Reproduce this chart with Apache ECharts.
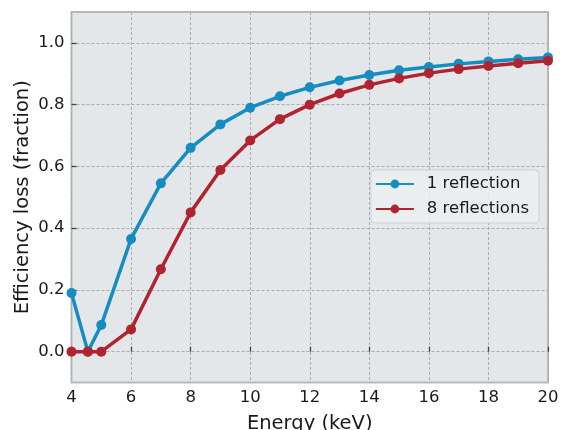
<!DOCTYPE html>
<html>
<head>
<meta charset="utf-8">
<script src="https://cdn.jsdelivr.net/npm/echarts@6/dist/echarts.min.js"></script>
<style>
    html, body { margin: 0; padding: 0; background: #fff; }
    #chart { width: 561px; height: 430px; }
</style>
</head>
<body>
<div id="chart"></div>
<script>
// energies in keV
var energy = [4, 4.55, 5, 6, 7, 8, 9, 10, 11, 12, 13, 14, 15, 16, 17, 18, 19, 20];
var oneReflection = [0.19, 0.0, 0.086, 0.365, 0.545, 0.66, 0.736, 0.79, 0.827, 0.856, 0.878, 0.896, 0.911, 0.922, 0.932, 0.94, 0.947, 0.953];
var eightReflections = [0.0, 0.0, 0.0, 0.072, 0.267, 0.451, 0.588, 0.684, 0.753, 0.80, 0.836, 0.864, 0.885, 0.902, 0.915, 0.925, 0.934, 0.942];
var yTicks = [0.0, 0.2, 0.4, 0.6, 0.8, 1.0];

var fontFamily = 'DejaVu Sans';
var blue = '#168dc0';
var red = '#b0242f';

function pairs(xs, ys) {
    return xs.map(function (x, i) {
        return [x, ys[i]];
    });
}

var chart = echarts.init(document.getElementById('chart'));
var option = {
    animation: false,
    textStyle: { fontFamily: fontFamily },
    grid: {
        left: 71.5,
        right: 13,
        top: 12,
        bottom: 47.5,
        outerBoundsMode: 'none',
        containLabel: false,
        show: true,
        backgroundColor: '#e4e7ea',
        borderColor: '#b5b9bd',
        borderWidth: 2,
    },
    legend: {
        right: 22,
        top: 170,
        orient: 'vertical',
        itemWidth: 38,
        itemHeight: 11,
        itemGap: 5,
        padding: [4, 10, 4, 4],
        backgroundColor: 'rgba(236,238,240,0.85)',
        borderColor: '#cdd0d3',
        borderWidth: 1,
        borderRadius: 4,
        textStyle: {
            fontFamily: fontFamily,
            fontSize: 16.5,
            color: '#1a1a1a',
            padding: [0, 0, 0, 8],
            lineHeight: 20,
        },
        data: ['1 reflection', '8 reflections'],
    },
    xAxis: {
        type: 'value',
        min: 4,
        max: 20,
        interval: 2,
        name: 'Energy (keV)',
        nameLocation: 'middle',
        nameGap: 31,
        nameMoveOverlap: false,
        nameTextStyle: { fontSize: 19.5, color: '#1a1a1a', fontFamily: fontFamily },
        axisLine: { show: false },
        axisTick: { show: true, inside: true, length: 5, lineStyle: { color: '#444', width: 1.3 } },
        axisLabel: { fontSize: 16.5, color: '#1a1a1a', margin: 6.5, fontFamily: fontFamily },
        splitLine: { show: true, lineStyle: { color: '#a9abad', type: [3, 2], width: 1 } },
    },
    yAxis: {
        type: 'value',
        min: -0.1,
        max: 1.1,
        name: 'Efficiency loss (fraction)',
        nameLocation: 'middle',
        nameGap: 39,
        nameMoveOverlap: false,
        nameTextStyle: { fontSize: 19.5, color: '#1a1a1a', fontFamily: fontFamily },
        axisLine: { show: false },
        axisTick: { show: true, inside: true, length: 5, customValues: yTicks, lineStyle: { color: '#444', width: 1.3 } },
        axisLabel: {
            fontSize: 16.5,
            color: '#1a1a1a',
            margin: 7,
            fontFamily: fontFamily,
            customValues: yTicks,
            formatter: function (v) { return v.toFixed(1); },
        },
        splitLine: { show: true, lineStyle: { color: '#a9abad', type: [3, 2], width: 1 } },
    },
    series: [
        {
            name: '1 reflection',
            type: 'line',
            data: pairs(energy, oneReflection),
            symbol: 'circle',
            symbolSize: 10,
            lineStyle: { color: blue, width: 3.5 },
            itemStyle: { color: blue },
            z: 3,
        },
        {
            name: '8 reflections',
            type: 'line',
            data: pairs(energy, eightReflections),
            symbol: 'circle',
            symbolSize: 10,
            lineStyle: { color: red, width: 3.5 },
            itemStyle: { color: red },
            z: 4,
        },
    ],
};
chart.setOption(option);
</script>
</body>
</html>
